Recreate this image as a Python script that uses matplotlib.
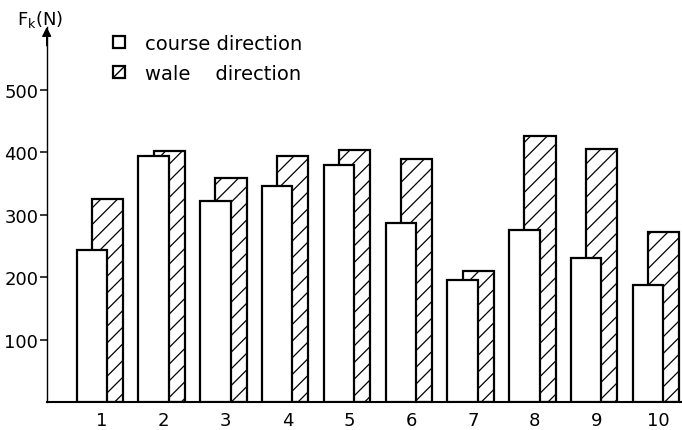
import matplotlib
matplotlib.use("Agg")
import matplotlib.pyplot as plt
from matplotlib.patches import Patch, Rectangle
from matplotlib.lines import Line2D
from matplotlib.legend_handler import HandlerBase
import numpy as np

# Breaking force per sample, N
samples = ["1", "2", "3", "4", "5", "6", "7", "8", "9", "10"]
course = [244, 393, 322, 346, 380, 287, 195, 275, 230, 187]
wale = [325, 401, 359, 393, 404, 389, 210, 425, 405, 273]
y_ticks = [100, 200, 300, 400, 500]

plt.rcParams["font.family"] = ["DejaVu Sans"]
plt.rcParams["hatch.linewidth"] = 0.9


class BoxKey(HandlerBase):
    """Square legend key; hatched keys get a single diagonal stroke."""

    def create_artists(self, legend, orig_handle, xdescent, ydescent,
                       width, height, fontsize, trans):
        side = min(width, height)
        x0, y0 = -xdescent, -ydescent + (height - side) / 2
        box = Rectangle((x0, y0), side, side, facecolor="white",
                        edgecolor="black", linewidth=1.6, transform=trans)
        arts = [box]
        if orig_handle.get_hatch():
            arts.append(Line2D([x0, x0 + side], [y0, y0 + side], color="black",
                               linewidth=1.0, transform=trans))
        return arts


W, H = 682, 431
fig = plt.figure(figsize=(W / 100, H / 100), dpi=100)
ax = fig.add_axes([46.7 / W, 27.7 / H, (W - 46.7) / W, (403.3 - 28) / H])

x = np.arange(1, len(samples) + 1)
ax.bar(x + 0.087, wale, width=0.507, facecolor="white", edgecolor="black",
       linewidth=1.6, hatch="//", zorder=2)
ax.bar(x - 0.165, course, width=0.49, facecolor="white", edgecolor="black",
       linewidth=1.6, zorder=3)

ax.set_xlim(0.105, 10.385)
ax.set_ylim(0, 600)
ax.set_xticks(x)
ax.set_xticklabels(samples)
ax.set_yticks(y_ticks)
ax.set_yticklabels([str(v) for v in y_ticks])
ax.tick_params(axis="x", length=0, pad=6, labelsize=13)
ax.tick_params(axis="y", direction="out", length=5, width=1.1, pad=1, labelsize=13)

for side in ("top", "right"):
    ax.spines[side].set_visible(False)
ax.spines["left"].set_linewidth(1.0)
ax.spines["bottom"].set_linewidth(1.5)

# arrow head on the force axis
ax.annotate("", xy=(0, 1.0), xytext=(0, 0.95), xycoords="axes fraction",
            arrowprops=dict(arrowstyle="-|>", color="black", lw=1.0,
                            mutation_scale=14, shrinkA=0, shrinkB=0),
            annotation_clip=False)

fig.text(17 / W, 1 - 19 / H, r"$\mathregular{F_k(N)}$", fontsize=13,
         ha="left", va="center")

handles = [
    Patch(facecolor="white", edgecolor="black"),
    Patch(facecolor="white", edgecolor="black", hatch="/"),
]
labels = ["course direction", "wale    direction"]
fig.legend(handles, labels, loc="upper left",
           bbox_to_anchor=(113 / W, 1 - 35 / H), bbox_transform=fig.transFigure,
           frameon=False, fontsize=14, borderpad=0, borderaxespad=0,
           handlelength=0.62, handleheight=0.62, handletextpad=1.05,
           labelspacing=0.55, handler_map={Patch: BoxKey()})

fig.savefig("out.png", dpi=100, facecolor="white")
